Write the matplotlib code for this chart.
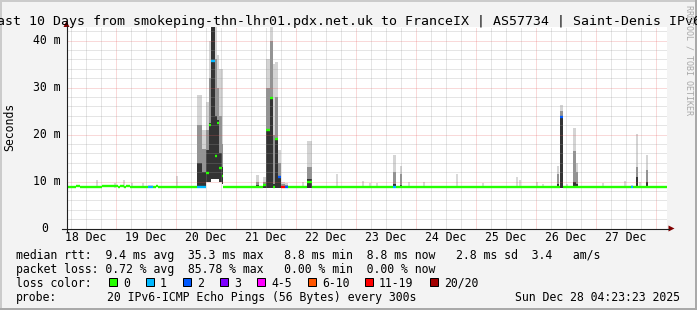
import matplotlib
matplotlib.use("Agg")
import matplotlib.pyplot as plt
import numpy as np
from matplotlib.patches import Rectangle, Polygon
from matplotlib.lines import Line2D

plt.rcParams['font.family'] = ['DejaVu Sans Mono']

W, H, DPI = 697, 310, 100

# ------------------------------------------------------------------ data
title = "Last 10 Days from smokeping-thn-lhr01.pdx.net.uk to FranceIX | AS57734 | Saint-Denis IPv6"
day_labels = ["18 Dec", "19 Dec", "20 Dec", "21 Dec", "22 Dec",
              "23 Dec", "24 Dec", "25 Dec", "26 Dec", "27 Dec"]
span_h = 240.0            # 10 days, start = Dec 18 04:23:23
first_midnight_h = 19.61  # Dec 19 00:00 relative to start
y_ticks = [0, 10, 20, 30, 40]
y_tick_labels = ["0", "10 m", "20 m", "30 m", "40 m"]
y_max = 42.9

baseline_ms = 8.8
shift_t0 = [3.8, 14.2, 21.4, 23.8, 35.8]
shift_t1 = [5.4, 20.6, 23.0, 25.4, 36.6]
shift_ms = [9.0, 9.0, 9.0, 9.0, 9.0]

# episodes: start h, end h, median ms, lost pings, smoke low, core top, mid top, outer top
ev_t0 = [32.6, 52.2, 54.2, 55.8, 56.8, 57.8, 59.4, 60.2, 61.0, 62.0,
         75.8, 78.6, 79.8, 81.4, 82.4, 83.4, 84.6, 85.6, 87.4,
         96.2, 130.6, 133.4, 196.2, 197.4, 202.6, 203.8, 225.8, 227.8, 231.8]
ev_t1 = [34.6, 54.2, 55.8, 56.8, 57.8, 59.4, 60.2, 61.0, 62.0, 62.6,
         77.0, 79.8, 81.4, 82.4, 83.4, 84.6, 85.6, 87.4, 88.6,
         98.2, 131.8, 134.2, 197.0, 198.6, 203.8, 204.6, 226.6, 228.6, 232.6]
ev_med = [8.8, 8.8, 8.8, 11.8, 22.0, 35.6, 15.5, 22.5, 12.9, 11.2,
          8.8, 9.2, 21.0, 27.7, 8.8, 19.1, 11.0, 8.8, 8.8,
          9.8, 8.8, 8.8, 8.8, 23.7, 8.8, 8.8, 8.8, 8.8, 8.8]
ev_loss = [1, 1, 1, 0, 0, 1, 0, 0, 0, 0,
           0, 0, 0, 0, 0, 0, 2, 12, 2,
           0, 1, 0, 0, 2, 0, 0, 1, 0, 0]
ev_lo = [8.6, 8.6, 8.6, 9.8, 10.0, 10.5, 10.5, 10.5, 10.0, 9.5,
         8.6, 8.6, 8.6, 8.6, 9.0, 8.6, 8.6, 8.6, 8.6,
         8.6, 8.6, 8.6, 8.6, 8.6, 8.6, 8.6, 8.6, 8.6, 8.6]
ev_core = [8.9, 14.0, 12.0, 16.7, 22.5, 44.0, 24.0, 23.0, 16.0, 13.0,
           9.2, 9.5, 21.0, 28.0, 9.5, 19.1, 11.0, 9.0, 8.9,
           10.5, 9.5, 9.2, 9.5, 23.7, 10.0, 9.5, 8.9, 11.0, 10.0]
ev_mid = [8.9, 22.0, 17.0, 21.0, 32.0, 44.0, 36.0, 30.0, 24.0, 18.0,
          9.8, 10.0, 30.0, 40.0, 20.0, 28.0, 14.0, 9.5, 9.2,
          13.0, 12.0, 11.5, 11.5, 25.0, 16.6, 12.0, 9.0, 13.0, 12.4]
ev_hi = [9.2, 28.5, 21.0, 27.0, 40.0, 44.0, 44.0, 37.0, 34.0, 34.0,
         11.4, 11.0, 36.0, 44.0, 35.0, 35.4, 16.8, 10.0, 9.6,
         18.6, 15.6, 13.3, 13.4, 26.3, 21.5, 14.0, 9.3, 20.2, 15.6]

# faint single-sample smoke bumps: hour, top ms
bump_h = [12.2, 19.4, 23.0, 26.2, 30.6, 44.2, 94.6, 108.2, 118.6, 121.4, 124.2,
          137.0, 143.0, 156.2, 166.6, 180.2, 181.4, 188.2, 190.6, 200.2,
          214.6, 223.4, 229.4]
bump_top = [10.3, 9.7, 10.3, 9.7, 9.7, 11.2, 9.9, 11.6, 10.1, 9.7, 9.6,
            9.9, 10.0, 11.6, 9.7, 10.9, 10.4, 9.9, 9.4, 9.4,
            9.7, 10.1, 9.8]

loss_bins = [0, 1, 2, 3, 4, 6, 11, 20]
loss_names = ["0", "1", "2", "3", "4-5", "6-10", "11-19", "20/20"]
loss_cols = ["#26ff00", "#00b8ff", "#0059ff", "#7e00ff",
             "#ff00ff", "#ff5500", "#ff0000", "#a10000"]

rtt_line = "median rtt:  9.4 ms avg  35.3 ms max   8.8 ms min  8.8 ms now   2.8 ms sd  3.4   am/s"
loss_line = "packet loss: 0.72 % avg  85.78 % max   0.00 % min  0.00 % now"
probe_text = "20 IPv6-ICMP Echo Pings (56 Bytes) every 300s"
date_text = "Sun Dec 28 04:23:23 2025"
watermark = "RRDTOOL / TOBI OETIKER"

# ------------------------------------------------------------------ figure
fig = plt.figure(figsize=(W / DPI, H / DPI), dpi=DPI, facecolor="#f3f3f3")

def fx(px):
    return px / W

def fy(py):
    return 1 - py / H

tf = fig.transFigure

# border (3D frame)
fig.add_artist(Rectangle((0, fy(2)), 1, 2 / H, transform=tf, color="#cbcbcb", lw=0))
fig.add_artist(Rectangle((0, 0), 2 / W, 1, transform=tf, color="#cbcbcb", lw=0))
fig.add_artist(Rectangle((0, 0), 1, 2 / H, transform=tf, color="#a9a9a9", lw=0))
fig.add_artist(Rectangle((fx(W - 2), 0), 2 / W, 1, transform=tf, color="#a9a9a9", lw=0))

X0, X1 = 66.5, 666.5
Y0, YT = 228.5, 27.0
ax = fig.add_axes([fx(X0), fy(Y0), (X1 - X0) / W, (Y0 - YT) / H])
ax.set_facecolor("white")
ax.set_xlim(0, span_h)
ax.set_ylim(0, y_max)
for s in ax.spines.values():
    s.set_visible(False)
ax.set_xticks([])
ax.set_yticks([])

# smoke
def shade(t0, t1, lo, top, col):
    if top > lo:
        ax.bar(t0, top - lo, width=t1 - t0, bottom=lo, align="edge",
               color=col, linewidth=0, zorder=2)

for h, top in zip(bump_h, bump_top):
    shade(h - 0.4, h + 0.4, 8.6, top, "#d9d9d9")
for i in range(len(ev_t0)):
    shade(ev_t0[i], ev_t1[i], ev_lo[i], ev_hi[i], "#d4d4d4")
    shade(ev_t0[i], ev_t1[i], ev_lo[i], ev_mid[i], "#939393")
    shade(ev_t0[i], ev_t1[i], ev_lo[i], ev_core[i], "#333333")

# grid (drawn above smoke like rrdtool)
minor_c = (0.6, 0.6, 0.6, 0.5)
major_c = (0.9, 0.35, 0.35, 0.45)
dot = (0, (1, 1))
t = first_midnight_h - 18
while t < span_h:
    k = round((t - first_midnight_h) / 6)
    col = major_c if k % 4 == 0 else minor_c
    if t > 0.3:
        ax.axvline(t, color=col, lw=0.72, ls=dot, zorder=3)
    t += 6
for v in np.arange(2, y_max, 2):
    col = major_c if round(v) % 10 == 0 else minor_c
    ax.axhline(v, color=col, lw=0.72, ls=dot, zorder=3)

# median line coloured by loss
step = 0.2
n = int(round(span_h / step))
med = np.full(n, baseline_ms)
loss = np.zeros(n, dtype=int)
for a, b, m in zip(shift_t0, shift_t1, shift_ms):
    med[int(round(a / step)):int(round(b / step))] = m
for i in range(len(ev_t0)):
    a, b = int(round(ev_t0[i] / step)), int(round(ev_t1[i] / step))
    med[a:b] = ev_med[i]
    loss[a:b] = ev_loss[i]

def loss_color(l):
    idx = 0
    for j, b in enumerate(loss_bins):
        if l >= b:
            idx = j
    return loss_cols[idx]

start = 0
for i in range(1, n + 1):
    if i == n or med[i] != med[start] or loss[i] != loss[start]:
        ax.hlines(med[start], start * step, i * step, color=loss_color(loss[start]),
                  lw=1.7, zorder=4, capstyle="butt")
        start = i

# axes lines and arrows
fig.add_artist(Line2D([fx(62), fx(668.5)], [fy(Y0), fy(Y0)], transform=tf, color="#202020", lw=0.8))
fig.add_artist(Line2D([fx(X0), fx(X0)], [fy(232), fy(26)], transform=tf, color="#202020", lw=0.8))
fig.add_artist(Polygon([(fx(668.5), fy(225.5)), (fx(668.5), fy(231.5)), (fx(674.5), fy(228.5))],
                       closed=True, transform=tf, color="#800000", lw=0))
fig.add_artist(Polygon([(fx(63.5), fy(27)), (fx(69.5), fy(27)), (fx(66.5), fy(21))],
                       closed=True, transform=tf, color="#800000", lw=0))

# tick labels
px_per_ms = (Y0 - YT) / y_max
for v, lab in zip(y_ticks, y_tick_labels):
    ypx = Y0 - v * px_per_ms
    xr = 60 if v else 48.5
    fig.text(fx(xr), fy(ypx), lab, ha="right", va="center", fontsize=8.3, color="black")
px_per_h = (X1 - X0) / span_h
for k, lab in enumerate(day_labels):
    th = first_midnight_h - 12 + 24 * k
    fig.text(fx(X0 + th * px_per_h), fy(241), lab, ha="center", va="baseline",
             fontsize=8.3, color="black")

fig.text(fx(10), fy(127), "Seconds", rotation=90, ha="center", va="center", fontsize=8.3)
fig.text(fx(345), fy(24.5), title, ha="center", va="baseline", fontsize=9.55, color="black")
fig.text(fx(689), fy(5), watermark, rotation=270, ha="center", va="top", fontsize=6,
         color="#a8a8a8")

# legend
fig.text(fx(16), fy(259), rtt_line, ha="left", va="baseline", fontsize=8.3)
fig.text(fx(16), fy(273), loss_line, ha="left", va="baseline", fontsize=8.3)
fig.text(fx(16), fy(287), "loss color:", ha="left", va="baseline", fontsize=8.3)
box_x = [109, 146, 183, 220, 257, 308, 365, 430]
for bx, name, col in zip(box_x, loss_names, loss_cols):
    fig.add_artist(Rectangle((fx(bx), fy(286)), 8 / W, 8 / H, transform=tf,
                             facecolor=col, edgecolor="black", lw=0.72))
    fig.text(fx(bx + 14), fy(287), name, ha="left", va="baseline", fontsize=8.3)
fig.text(fx(16), fy(301), "probe:", ha="left", va="baseline", fontsize=8.3)
fig.text(fx(107), fy(301), probe_text, ha="left", va="baseline", fontsize=8.3)
fig.text(fx(680), fy(301), date_text, ha="right", va="baseline", fontsize=8.3)

fig.savefig("out.png", dpi=DPI, facecolor=fig.get_facecolor())
